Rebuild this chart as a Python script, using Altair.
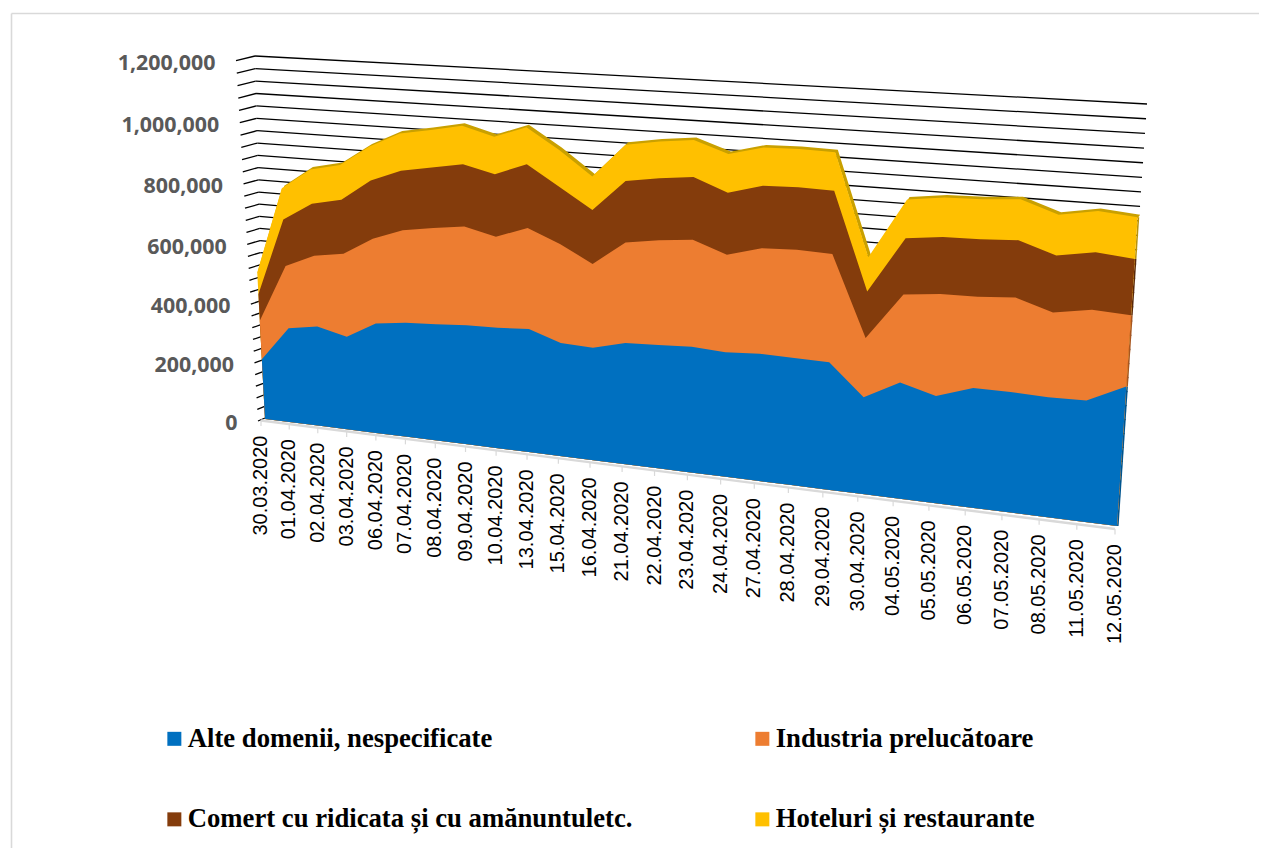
import altair as alt
import pandas as pd

dates = ["30.03.2020","01.04.2020","02.04.2020","03.04.2020","06.04.2020","07.04.2020","08.04.2020","09.04.2020","10.04.2020","13.04.2020","15.04.2020","16.04.2020","21.04.2020","22.04.2020","23.04.2020","24.04.2020","27.04.2020","28.04.2020","29.04.2020","30.04.2020","04.05.2020","05.05.2020","06.05.2020","07.05.2020","08.05.2020","11.05.2020","12.05.2020"]
alte = [200,314,330,307,361,374,380,387,390,397,363,359,385,390,395,389,396,394,393,297,354,325,361,361,358,360,414]
industria = [128,207,235,274,279,303,314,321,294,325,317,267,319,331,337,306,329,336,334,182,269,310,277,285,254,271,212]
comert = [89,155,172,178,191,195,197,202,202,205,182,172,195,196,197,194,195,194,195,143,172,174,174,173,171,172,167]
hoteluri = [73,104,114,115,112,122,122,125,121,119,119,107,115,116,117,121,119,119,119,105,119,120,121,123,122,123,124]
series_names = ["Alte domenii, nespecificate","Industria prelucătoare","Comert cu ridicata și cu amănuntuletc.","Hoteluri și restaurante"]
series_values = [alte, industria, comert, hoteluri]
colors = ["#0070C0","#ED7D31","#843C0C","#FFC000"]
side_colors = ["#00558F","#A8561F","#5A2808","#B8920A"]
y_ticks = [0,200000,400000,600000,800000,1000000,1200000]
VMAX = 1200.0
N = len(dates)

def persp_x(i):
    t = i/(N-1)
    return t/(1.17-0.17*t)

def project(i, v):
    s = persp_x(i)
    h = v/VMAX
    lx, ly = 265-19*h, 419-359*h
    rx, ry = 1117+27*h, 526-404*h
    return (1-s)*lx+s*rx, (1-s)*ly+s*ry

def wall(k):
    h = k/30
    p = h/(1.04-0.04*h)
    o = (258-22*p, 421-360.3*p)
    a = (265-10*p, 418-362*p)
    b = (1118+29*p, 530-426*p)
    return o, a, b

W, H = 1251, 840
xs = alt.Scale(domain=[8, 8+W], range=[0, W], nice=False, zero=False)
ys = alt.Scale(domain=[8+H, 8], nice=False, zero=False)
X = alt.X("px:Q", scale=xs, axis=None)
Y = alt.Y("py:Q", scale=ys, axis=None)
X2 = alt.X2("px2:Q")
Y2 = alt.Y2("py2:Q")

# page frame
frame = pd.DataFrame({"px":[11.5,11.5],"py":[13.5,13.5],"px2":[1259,11.5],"py2":[13.5,848]})
l_frame = alt.Chart(frame).mark_rule(color="#D9D9D9", strokeWidth=1.6).encode(x=X,y=Y,x2=X2,y2=Y2)

# grid
seg = []
for k in range(31):
    o,a,b = wall(k)
    seg.append(dict(px=o[0],py=o[1],px2=a[0],py2=a[1]))
    if k>0:
        seg.append(dict(px=a[0],py=a[1],px2=b[0],py2=b[1]))
l_grid = alt.Chart(pd.DataFrame(seg)).mark_rule(color="#000000", strokeWidth=1.3).encode(x=X,y=Y,x2=X2,y2=Y2)

# y labels
lab = []
for v in y_ticks:
    o,_,_ = wall(v/40000)
    lab.append(dict(px=o[0]-20.5, py=o[1]+3.2, txt=f"{v:,}"))
l_ylab = alt.Chart(pd.DataFrame(lab)).mark_text(align="right", baseline="middle", font="Open Sans", fontWeight="bold", fontSize=21.4, color="#595959").encode(x=X,y=Y,text="txt:N")

# floor + ticks + x labels
def floor(i):
    s = persp_x(i)
    return 261+854*s, 420.5+108.5*s
f0, f1 = floor(0), floor(N-1)
fl = pd.DataFrame([dict(px=f0[0],py=f0[1],px2=f1[0],py2=f1[1])])
l_floor = alt.Chart(fl).mark_rule(color="#D9D9D9", strokeWidth=2.4).encode(x=X,y=Y,x2=X2,y2=Y2)
tk = pd.DataFrame([dict(px=floor(i)[0],py=floor(i)[1],px2=floor(i)[0],py2=floor(i)[1]+5.5) for i in range(N)])
l_ticks = alt.Chart(tk).mark_rule(color="#D9D9D9", strokeWidth=1.2).encode(x=X,y=Y,x2=X2,y2=Y2)
xl = pd.DataFrame([dict(px=floor(i)[0],py=floor(i)[1]+15,txt=dates[i]) for i in range(N)])
l_xlab = alt.Chart(xl).mark_text(angle=270, align="right", baseline="middle", font="Liberation Sans", fontSize=20, color="#000000").encode(x=X,y=Y,text="txt:N")

# cumulative stacks
cum = []
run = [0]*N
for vals in series_values:
    run = [a+b for a,b in zip(run, vals)]
    cum.append(run)

# top-surface strip of the last series, behind the yellow face
strip = []
o = 0
for i in range(N):
    x,y = project(i, cum[3][i])
    strip.append(dict(px=x+2.5,py=y-2.5,o=o)); o+=1
for i in range(N-1,-1,-1):
    x,y = project(i, cum[3][i])
    strip.append(dict(px=x,py=y+1,o=o)); o+=1
l_strip = alt.Chart(pd.DataFrame(strip)).mark_line(interpolate="linear-closed", strokeWidth=0, fill="#C9A000").encode(x=X,y=Y,order="o:Q")

# right side faces
side = []
for j in range(4):
    lo = 0 if j==0 else cum[j-1][N-1]
    x0,y0 = project(N-1, lo)
    x1,y1 = project(N-1, cum[j][N-1])
    side.append(dict(px=x0+0.8,py=y0,px2=x1+0.8,py2=y1,c=side_colors[j]))
l_side = alt.Chart(pd.DataFrame(side)).mark_rule(strokeWidth=1.6).encode(x=X,y=Y,x2=X2,y2=Y2,color=alt.Color("c:N",scale=None))

# stacked faces, painted back to front
rows = []
for j in [3,2,1,0]:
    o = 0
    for i in range(N):
        x,y = project(i, cum[j][i])
        rows.append(dict(px=x,py=y,o=o,series=series_names[j])); o+=1
    for i in range(N-1,-1,-1):
        x,y = project(i, 0)
        rows.append(dict(px=x,py=y,o=o,series=series_names[j])); o+=1
l_area = alt.Chart(pd.DataFrame(rows)).mark_line(interpolate="linear-closed", strokeWidth=0).encode(
    x=X,y=Y,order="o:Q",
    fill=alt.Fill("series:N", scale=alt.Scale(domain=series_names, range=colors),
        legend=alt.Legend(orient="none", legendX=153, legendY=717, columns=2, direction="horizontal",
            title=None, symbolType="square", symbolSize=196, symbolStrokeWidth=0, symbolOpacity=1,
            labelFont="Liberation Serif", labelFontWeight="bold", labelFontSize=26.7, labelColor="#000000",
            labelLimit=0, rowPadding=53, columnPadding=116, labelOffset=0)),
    detail="series:N")

chart = alt.layer(l_frame,l_grid,l_ylab,l_floor,l_ticks,l_xlab,l_strip,l_side,l_area).properties(
    width=W,height=H,padding=0,autosize=alt.AutoSizeParams(type="none"),background="#FFFFFF"
).configure_view(strokeWidth=0)
chart.save("out.html", embed_options={"renderer": "svg", "actions": False})
